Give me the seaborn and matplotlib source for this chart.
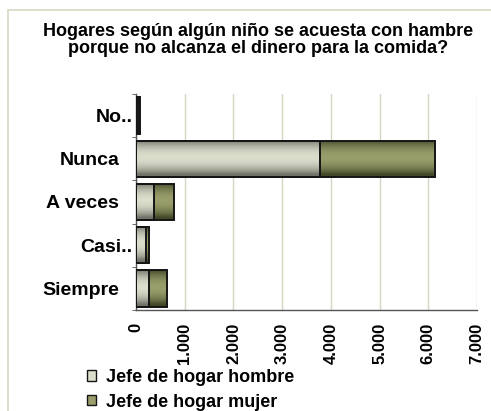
import numpy as np
import pandas as pd
import matplotlib
matplotlib.use("Agg")
import matplotlib.pyplot as plt
import matplotlib.patches as mpatches
import matplotlib.transforms as mtransforms
from matplotlib import font_manager as fm
import seaborn as sns

# Datos del gráfico
categorias = ["No..", "Nunca", "A veces", "Casi..", "Siempre"]
jefe_hombre = [50, 3770, 360, 215, 260]
jefe_mujer = [25, 2360, 410, 55, 375]
series = ["Jefe de hogar hombre", "Jefe de hogar mujer"]
ticks_x = [0, 1000, 2000, 3000, 4000, 5000, 6000, 7000]
etiquetas_x = ["0", "1.000", "2.000", "3.000", "4.000", "5.000", "6.000", "7.000"]
titulo = ("Hogares según algún niño se acuesta con hambre\n"
          "porque no alcanza el dinero para la comida?")

# Colores (borde oscuro / centro claro del degradado)
gris_borde, gris_centro = np.array([0.44, 0.45, 0.41]), np.array([0.86, 0.87, 0.80])
verde_borde, verde_centro = np.array([0.26, 0.28, 0.16]), np.array([0.60, 0.62, 0.42])


def familia_negrita(candidatas):
    """Primera familia instalada que tenga variante en negrita."""
    for nombre in candidatas:
        for f in fm.fontManager.ttflist:
            if f.name == nombre and (f.weight == 700 or f.weight == "bold"):
                return nombre
    return "DejaVu Sans"


sns.set_style("white")
familia = familia_negrita(["Liberation Sans", "Arimo", "Roboto", "Noto Sans",
                           "Open Sans", "Lato", "Inter"])
plt.rcParams["font.family"] = [familia, "DejaVu Sans"]
plt.rcParams["font.weight"] = "bold"
plt.rcParams["text.color"] = "black"
plt.rcParams["xtick.color"] = "black"
plt.rcParams["ytick.color"] = "black"

df = pd.DataFrame({"categoria": categorias, "hombre": jefe_hombre, "mujer": jefe_mujer})
df["total"] = df["hombre"] + df["mujer"]

W, H = 491, 411
fig = plt.figure(figsize=(W / 100, H / 100), dpi=100)
ax = fig.add_axes([136 / W, 1 - 310 / H, (477 - 136) / W, (310 - 94) / H])

borde_barra = "#151515"
sns.barplot(data=df, y="categoria", x="total", order=categorias,
            color=tuple(verde_centro), width=0.84, edgecolor=borde_barra,
            linewidth=1.4, ax=ax, zorder=3)
n_verde = len(ax.patches)
sns.barplot(data=df, y="categoria", x="hombre", order=categorias,
            color=tuple(gris_centro), width=0.84, edgecolor=borde_barra,
            linewidth=1.4, ax=ax, zorder=3)


def sombrear(patch, c_borde, c_centro):
    """Rellena la barra con un degradado cilíndrico recortado a su forma."""
    x0, y0 = patch.get_x(), patch.get_y()
    w, h = patch.get_width(), patch.get_height()
    t = np.linspace(0, 1, 64)
    perfil = np.sin(np.pi * np.clip(t * 1.08, 0, 1)) ** 0.8
    rgb = c_borde + (c_centro - c_borde) * perfil[:, None]
    im = ax.imshow(rgb[:, None, :], extent=[x0, x0 + w, y0 + h, y0],
                   aspect="auto", origin="upper", interpolation="bilinear",
                   zorder=patch.get_zorder() - 0.05)
    im.set_clip_path(patch)
    patch.set_facecolor("none")


for i, p in enumerate(ax.patches):
    if i < n_verde:
        sombrear(p, verde_borde, verde_centro)
    else:
        sombrear(p, gris_borde, gris_centro)

ax.set_xlim(0, 7000)
ax.set_ylim(len(categorias) - 0.5, -0.5)
ax.set_xlabel("")
ax.set_ylabel("")

ax.set_xticks(ticks_x)
ax.set_xticklabels(etiquetas_x, rotation=90, fontsize=12, fontweight="bold")
ax.set_yticks(range(len(categorias)))
ax.set_yticklabels(categorias, fontsize=14, fontweight="bold")
ax.set_yticks(np.arange(-0.5, len(categorias), 1), minor=True)

ax.grid(axis="x", color="#d6d6c0", linewidth=1.0)
ax.grid(axis="y", visible=False)
ax.set_axisbelow(True)

for s in ["top", "right"]:
    ax.spines[s].set_visible(False)
for s in ["left", "bottom"]:
    ax.spines[s].set_color("#555555")
    ax.spines[s].set_linewidth(1.0)

ax.tick_params(axis="x", which="major", length=3, color="#555555", pad=6.5, labelcolor="black")
ax.tick_params(axis="y", which="major", length=0, pad=12, labelcolor="black")
ax.tick_params(axis="y", which="minor", length=3, color="#555555", left=True)

# Las etiquetas recortadas con ".." quedan más cerca del eje
for lab in ax.get_yticklabels():
    if lab.get_text().endswith(".."):
        lab.set_transform(lab.get_transform()
                          + mtransforms.ScaledTranslation(13 / 100, 0, fig.dpi_scale_trans))

# Título
fig.text(258 / W, 1 - 40 / H, titulo, ha="center", va="center",
         fontsize=13, fontweight="bold", linespacing=1.0, color="black")

# Leyenda
manejadores = [mpatches.Patch(facecolor=tuple(gris_centro), edgecolor=borde_barra, linewidth=1.0),
               mpatches.Patch(facecolor=tuple(verde_centro), edgecolor=borde_barra, linewidth=1.0)]
fig.legend(manejadores, series, loc="upper left", bbox_to_anchor=(87 / W, 1 - 369 / H),
           frameon=False, borderpad=0, borderaxespad=0, handlelength=0.5,
           handleheight=0.5, handletextpad=0.55, labelspacing=0.42,
           prop={"size": 13, "weight": "bold"}, labelcolor="black")

# Marco del área del gráfico
fig.add_artist(mpatches.Rectangle((8 / W, -0.05), 1.0, 1 - 10 / H + 0.05,
                                  transform=fig.transFigure, fill=False,
                                  edgecolor="#d8d8c4", linewidth=1.2))

fig.savefig("out.png", dpi=100)
